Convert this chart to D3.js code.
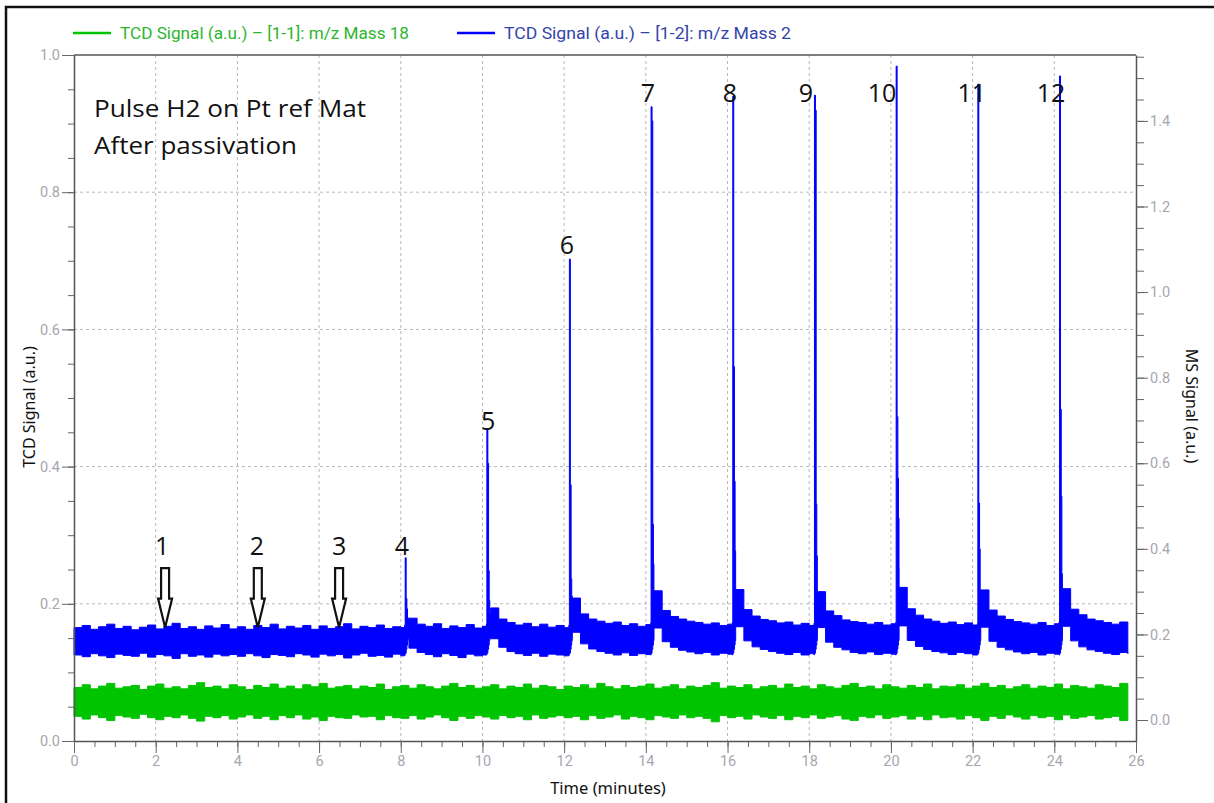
<!DOCTYPE html>
<html>
<head>
<meta charset="utf-8">
<script src="https://cdn.jsdelivr.net/npm/d3@7"></script>
<style>
    body { margin: 0; background: #fff; }
    svg { display: block; }
</style>
</head>
<body>
<svg id="chart" width="1214" height="803"></svg>
<script>
// sampled envelope of the noisy traces, one value every 0.2 min from t = 0
const sampleStep = 0.2;

// m/z 18 trace (left axis), upper / lower edge of the noise band
const greenHigh = [
    .078,.082,.076,.080,.084,.077,.079,.081,.075,.080,
    .083,.077,.079,.076,.081,.085,.078,.080,.076,.082,
    .079,.075,.081,.078,.083,.077,.080,.076,.082,.079,
    .084,.077,.079,.081,.076,.080,.078,.083,.075,.079,
    .081,.077,.082,.079,.076,.080,.084,.078,.081,.077,
    .079,.082,.076,.080,.078,.083,.077,.081,.079,.075,
    .080,.078,.082,.077,.084,.079,.076,.081,.078,.080,
    .083,.077,.079,.082,.076,.080,.078,.081,.085,.077,
    .080,.078,.082,.076,.079,.081,.077,.083,.078,.080,
    .076,.082,.079,.077,.081,.084,.078,.080,.076,.082,
    .079,.077,.081,.078,.083,.076,.080,.079,.082,.077,
    .080,.084,.078,.081,.076,.079,.082,.077,.080,.078,
    .083,.076,.081,.079,.077,.082,.080,.078,.084,.079
];
const greenLow = [
    .036,.032,.038,.034,.030,.037,.035,.033,.039,.034,
    .031,.036,.034,.038,.033,.029,.036,.034,.037,.032,
    .035,.038,.033,.036,.031,.037,.034,.038,.032,.035,
    .030,.036,.034,.033,.038,.035,.036,.031,.037,.034,
    .033,.037,.032,.035,.038,.034,.030,.036,.033,.037,
    .035,.032,.037,.034,.036,.031,.038,.033,.035,.037,
    .034,.036,.031,.037,.033,.035,.038,.032,.036,.034,
    .031,.037,.035,.033,.038,.034,.036,.033,.028,.037,
    .034,.036,.032,.038,.035,.033,.037,.031,.036,.034,
    .038,.033,.035,.037,.032,.030,.036,.034,.038,.033,
    .035,.037,.032,.036,.031,.038,.034,.035,.032,.037,
    .034,.030,.036,.033,.038,.035,.032,.037,.034,.036,
    .031,.038,.033,.035,.037,.032,.034,.036,.030,.035
];

// m/z 2 trace (right axis), noise band incl. the tails after each pulse
const blueHigh = [
    .216,.221,.212,.218,.224,.214,.219,.211,.217,.222,
    .213,.219,.226,.214,.218,.212,.220,.215,.223,.213,
    .218,.212,.221,.216,.224,.213,.219,.215,.221,.212,
    .220,.214,.218,.225,.213,.219,.216,.222,.214,.218,
    .216,.238,.224,.219,.225,.214,.220,.216,.223,.215,
    .219,.262,.236,.228,.222,.226,.218,.224,.217,.221,
    .216,.285,.248,.236,.231,.226,.229,.221,.225,.219,
    .223,.302,.256,.242,.236,.231,.228,.224,.227,.221,
    .224,.305,.258,.243,.235,.232,.227,.229,.222,.226,
    .221,.300,.255,.244,.234,.230,.228,.224,.228,.222,
    .225,.310,.260,.245,.236,.231,.226,.229,.223,.227,
    .222,.304,.257,.243,.235,.230,.227,.224,.228,.221,
    .225,.307,.259,.246,.236,.232,.228,.224,.229,.223
];
const blueLow = [
    .152,.148,.155,.150,.146,.154,.151,.149,.156,.147,
    .153,.150,.144,.155,.149,.152,.147,.154,.150,.153,
    .149,.155,.150,.146,.153,.151,.148,.155,.152,.147,
    .154,.150,.153,.145,.152,.156,.149,.151,.147,.154,
    .150,.168,.158,.153,.148,.155,.151,.146,.154,.150,
    .152,.190,.170,.160,.155,.151,.156,.149,.154,.152,
    .150,.205,.178,.166,.160,.156,.152,.157,.151,.155,
    .153,.215,.183,.170,.163,.159,.155,.158,.152,.156,
    .154,.218,.185,.171,.165,.160,.156,.153,.158,.152,
    .155,.216,.182,.170,.164,.158,.155,.159,.153,.156,
    .154,.220,.186,.172,.165,.160,.157,.153,.158,.155,
    .152,.217,.184,.170,.164,.159,.155,.158,.152,.156,
    .154,.219,.185,.171,.164,.160,.156,.153,.158,.155
];

// the pulses seen on m/z 2 (4..12), sampled around each spike
const peakTimes = [8.12, 10.12, 12.14, 14.14, 16.14, 18.14, 20.14, 22.14, 24.14];
const peakOffsets = [-0.025, -0.012, 0.012, 0.03, 0.045, 0.058];
const peakHigh = [
    [.222, .379, .284, .260, .240, .235],
    [.224, .681, .600, .349, .280, .249],
    [.222, 1.077, .550, .330, .290, .270],
    [.226, 1.433, 1.400, .458, .365, .300],
    [.228, 1.458, .826, .558, .395, .314],
    [.226, 1.460, 1.425, .505, .384, .310],
    [.228, 1.528, .709, .565, .472, .356],
    [.225, 1.486, .507, .400, .302, .290],
    [.229, 1.505, .726, .523, .342, .300]
];
const peakLow = [.152, .156, .165, .175, .185, .190];

// pulse numbers written on the chart (right axis units)
const pulseLabels = ['1', '2', '3', '4', '5', '6', '7', '8', '9', '10', '11', '12'];
const labelTimes = [2.155, 4.48, 6.49, 8.03, 10.14, 12.07, 14.05, 16.06, 17.92, 19.78, 21.98, 23.92];
const labelValues = [.386, .386, .386, .386, .678, 1.089, 1.444, 1.444, 1.444, 1.444, 1.444, 1.444];

// hollow arrows marking the pulses without response
const arrowTimes = [2.23, 4.5, 6.49];
const arrowTop = .355;
const arrowTip = .216;

const xTicks = [0, 2, 4, 6, 8, 10, 12, 14, 16, 18, 20, 22, 24, 26];
const leftTicks = [0, 0.2, 0.4, 0.6, 0.8, 1.0];
const rightTicks = [0, 0.2, 0.4, 0.6, 0.8, 1.0, 1.2, 1.4];

const legendItems = ['TCD Signal (a.u.) \u2013 [1-1]: m/z Mass 18', 'TCD Signal (a.u.) \u2013 [1-2]: m/z Mass 2'];

const GREEN = '#00c400';
const BLUE = '#0000ff';

class PulseChart {
    constructor() {
        this.svg = d3.select('#chart');
        this.MARGIN = {top: 55, right: 1136, bottom: 741, left: 74};

        this.xScale = d3.scaleLinear().domain([0, 26]).range([this.MARGIN.left, this.MARGIN.right]);
        this.yLeft = d3.scaleLinear().domain([0, 1]).range([this.MARGIN.bottom, this.MARGIN.top]);
        this.yRight = d3.scaleLinear().domain([-0.049, 1.554]).range([this.MARGIN.bottom, this.MARGIN.top]);

        this.drawChart();
    }

    drawChart() {
        this.drawFrame();
        this.drawGrid();
        this.drawTraces();
        this.drawAxis();
        this.drawLegend();
        this.drawNotes();
    }

    drawFrame() {
        this.svg.append('rect').attr('width', 1214).attr('height', 803).attr('fill', '#fff');
        this.svg.append('path')
            .attr('d', 'M6,803V7H1214')
            .attr('fill', 'none')
            .attr('stroke', '#111')
            .attr('stroke-width', 2.5);
    }

    drawGrid() {
        let g = this.svg.append('g')
            .attr('stroke', '#b8b8b8')
            .attr('stroke-dasharray', '3,3');
        g.selectAll('.vg')
            .data(xTicks.slice(1, -1))
            .join('line')
            .attr('x1', d => this.xScale(d)).attr('x2', d => this.xScale(d))
            .attr('y1', this.MARGIN.top).attr('y2', this.MARGIN.bottom);
        g.selectAll('.hg')
            .data(leftTicks.slice(1, -1))
            .join('line')
            .attr('y1', d => this.yLeft(d)).attr('y2', d => this.yLeft(d))
            .attr('x1', this.MARGIN.left).attr('x2', this.MARGIN.right);
    }

    drawTraces() {
        let greenPts = greenHigh.map((h, i) => ({t: i * sampleStep, lo: greenLow[i], hi: h}));

        let bluePts = blueHigh.map((h, i) => ({t: i * sampleStep, lo: blueLow[i], hi: h}));
        peakTimes.forEach((t0, p) => {
            peakOffsets.forEach((o, k) => {
                bluePts.push({t: t0 + o, lo: peakLow[k], hi: peakHigh[p][k]});
            });
        });
        bluePts.sort((a, b) => a.t - b.t);

        let greenArea = d3.area()
            .curve(d3.curveStepAfter)
            .x(d => this.xScale(d.t))
            .y0(d => this.yLeft(d.lo))
            .y1(d => this.yLeft(d.hi));
        let blueArea = d3.area()
            .curve(d3.curveStepAfter)
            .x(d => this.xScale(d.t))
            .y0(d => this.yRight(d.lo))
            .y1(d => this.yRight(d.hi));

        this.svg.append('path')
            .attr('d', greenArea(greenPts))
            .attr('fill', GREEN).attr('stroke', GREEN).attr('stroke-width', 1);
        this.svg.append('path')
            .attr('d', blueArea(bluePts))
            .attr('fill', BLUE).attr('stroke', BLUE).attr('stroke-width', 1);
    }

    styleAxis(sel) {
        sel.select('.domain').attr('stroke', '#555').attr('stroke-width', 1.5);
        sel.selectAll('.tick line').attr('stroke', '#666');
        sel.selectAll('.tick text')
            .attr('fill', '#a6a6b0')
            .style('font-family', 'Roboto, sans-serif')
            .style('font-size', '14.5px');
    }

    drawAxis() {
        let M = this.MARGIN;

        // minor ticks first, then the labelled ones
        let minorX = d3.range(0, 26.01, 0.5);
        let minorL = d3.range(0, 1.001, 0.05);
        let minorR = d3.range(-0.05, 1.551, 0.05).filter(v => v > -0.049);

        this.svg.append('g')
            .attr('transform', `translate(0, ${M.bottom})`)
            .call(d3.axisBottom(this.xScale).tickValues(minorX).tickSize(6).tickFormat(''))
            .call(s => { s.select('.domain').remove(); s.selectAll('line').attr('stroke', '#666'); });
        this.svg.append('g')
            .attr('transform', `translate(${M.left}, 0)`)
            .call(d3.axisLeft(this.yLeft).tickValues(minorL).tickSize(6).tickFormat(''))
            .call(s => { s.select('.domain').remove(); s.selectAll('line').attr('stroke', '#666'); });
        this.svg.append('g')
            .attr('transform', `translate(${M.right}, 0)`)
            .call(d3.axisRight(this.yRight).tickValues(minorR).tickSize(8).tickFormat(''))
            .call(s => { s.select('.domain').remove(); s.selectAll('line').attr('stroke', '#666'); });

        let xAxisSelect = this.svg.append('g')
            .attr('transform', `translate(0, ${M.bottom})`)
            .call(d3.axisBottom(this.xScale).tickValues(xTicks).tickSize(12).tickSizeOuter(0).tickPadding(3).tickFormat(d3.format('d')));
        this.styleAxis(xAxisSelect);

        let yLeftSelect = this.svg.append('g')
            .attr('transform', `translate(${M.left}, 0)`)
            .call(d3.axisLeft(this.yLeft).tickValues(leftTicks).tickSize(12).tickSizeOuter(0).tickPadding(2).tickFormat(d3.format('.1f')));
        this.styleAxis(yLeftSelect);

        let yRightSelect = this.svg.append('g')
            .attr('transform', `translate(${M.right}, 0)`)
            .call(d3.axisRight(this.yRight).tickValues(rightTicks).tickSize(12).tickSizeOuter(0).tickPadding(2).tickFormat(d3.format('.1f')));
        this.styleAxis(yRightSelect);

        // top edge of the plot box
        this.svg.append('line')
            .attr('x1', M.left).attr('x2', M.right)
            .attr('y1', M.top).attr('y2', M.top)
            .attr('stroke', '#555').attr('stroke-width', 1.5);

        // axis titles
        let title = (txt, size) => this.svg.append('text')
            .text(txt)
            .attr('text-anchor', 'middle')
            .attr('fill', '#111')
            .style('font-family', '"Noto Sans", sans-serif')
            .style('font-size', size);
        title('TCD Signal (a.u.)', '16px').attr('transform', 'translate(35, 407) rotate(-90)');
        title('MS Signal (a.u.)', '16px').attr('transform', 'translate(1186, 406) rotate(90)');
        title('Time (minutes)', '16.5px').attr('x', 608).attr('y', 794);
    }

    drawLegend() {
        let colors = [GREEN, BLUE];
        let textColors = ['#2db52d', '#3344aa'];
        let xs = [73, 457];
        let g = this.svg.append('g');
        legendItems.forEach((txt, i) => {
            g.append('line')
                .attr('x1', xs[i]).attr('x2', xs[i] + 38)
                .attr('y1', 33).attr('y2', 33)
                .attr('stroke', colors[i]).attr('stroke-width', 2.5);
            g.append('text')
                .text(txt)
                .attr('x', xs[i] + 47).attr('y', 38.5)
                .attr('fill', textColors[i])
                .attr('textLength', i === 0 ? 289 : 287)
                .attr('lengthAdjust', 'spacingAndGlyphs')
                .style('font-family', 'Roboto, sans-serif')
                .style('font-size', '16px');
        });
    }

    drawNotes() {
        let note = this.svg.append('g')
            .attr('fill', '#111')
            .style('font-family', '"Open Sans", sans-serif')
            .style('font-size', '24px');
        note.append('text').text('Pulse H2 on Pt ref Mat')
            .attr('x', 94).attr('y', 117)
            .attr('textLength', 272).attr('lengthAdjust', 'spacingAndGlyphs');
        note.append('text').text('After passivation')
            .attr('x', 94).attr('y', 154)
            .attr('textLength', 203).attr('lengthAdjust', 'spacingAndGlyphs');

        this.svg.append('g')
            .selectAll('text')
            .data(pulseLabels)
            .join('text')
            .text(d => d)
            .attr('x', (d, i) => this.xScale(labelTimes[i]))
            .attr('y', (d, i) => this.yRight(labelValues[i]))
            .attr('text-anchor', 'middle')
            .attr('fill', '#111')
            .style('font-family', '"Open Sans", sans-serif')
            .style('font-size', '25px');

        // hollow down arrows
        let arrow = d3.line();
        this.svg.append('g')
            .selectAll('path')
            .data(arrowTimes)
            .join('path')
            .attr('d', t => {
                let cx = this.xScale(t);
                let y0 = this.yRight(arrowTop);
                let y1 = this.yRight(arrowTip);
                let yh = y1 - 29;
                return arrow([
                    [cx - 4, y0], [cx + 4, y0], [cx + 4, yh], [cx + 7, yh],
                    [cx, y1], [cx - 7, yh], [cx - 4, yh]
                ]) + 'Z';
            })
            .attr('fill', '#fff')
            .attr('stroke', '#111')
            .attr('stroke-width', 2.2)
            .attr('stroke-linejoin', 'miter');
    }
}

new PulseChart();
</script>
</body>
</html>
